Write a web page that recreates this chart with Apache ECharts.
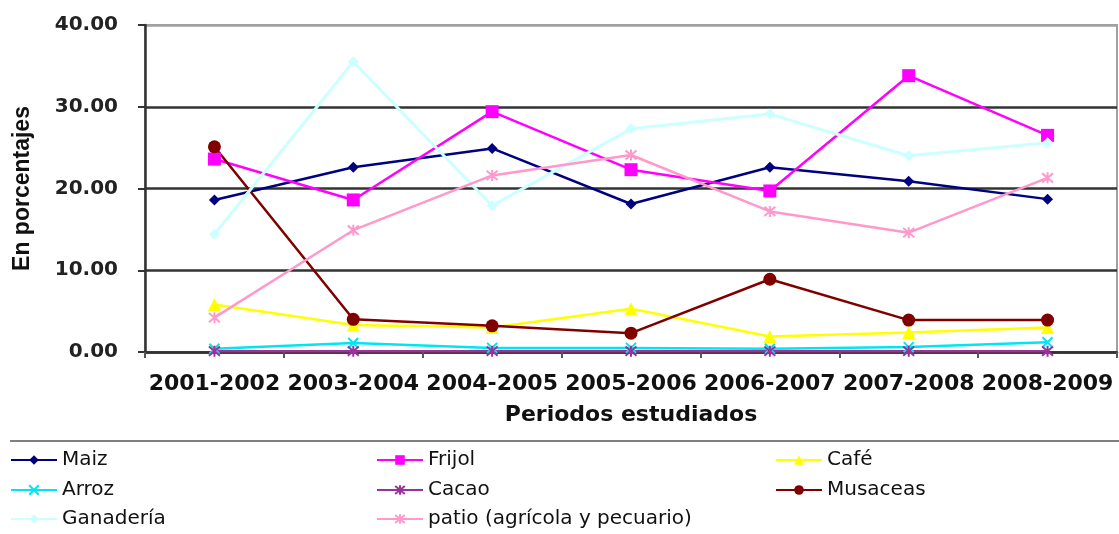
<!DOCTYPE html>
<html>
<head>
<meta charset="utf-8">
<script src="https://cdn.jsdelivr.net/npm/echarts@6/dist/echarts.min.js"></script>
<style>
  html, body { margin: 0; padding: 0; background: #fff; }
  #chart { width: 1119px; height: 534px; }
</style>
</head>
<body>
<div id="chart"></div>
<script>
// periods on the x axis
const periodos = ['2001-2002', '2003-2004', '2004-2005', '2005-2006', '2006-2007', '2007-2008', '2008-2009'];

// values (percent)
const maiz      = [18.6, 22.6, 24.9, 18.1, 22.6, 20.9, 18.7];
const frijol    = [23.6, 18.6, 29.4, 22.3, 19.7, 33.8, 26.5];
const cafe      = [5.8, 3.3, 3.0, 5.3, 1.9, 2.4, 3.0];
const arroz     = [0.4, 1.1, 0.5, 0.5, 0.4, 0.6, 1.2];
const cacao     = [0.1, 0.1, 0.1, 0.1, 0.1, 0.1, 0.1];
const musaceas  = [25.1, 4.0, 3.2, 2.3, 8.9, 3.9, 3.9];
const ganaderia = [14.4, 35.5, 17.9, 27.3, 29.1, 24.0, 25.6];
const patio     = [4.2, 14.9, 21.6, 24.1, 17.2, 14.6, 21.3];

const yTicks = [0, 10, 20, 30, 40];

const crossPath = 'path://M0,0L10,10M10,0L0,10';
const starPath = 'path://M0,0L10,10M10,0L0,10M5,-1L5,11';

function mkSeries(name, data, color, symbol, size, width) {
  return {
    name: name,
    type: 'line',
    data: data,
    symbol: symbol,
    symbolSize: size,
    lineStyle: { color: color, width: width || 2.5 },
    itemStyle: { color: color, borderColor: color, borderWidth: symbol.indexOf('path') === 0 ? 2 : 0 },
    emphasis: { disabled: true },
    animation: false
  };
}

const chart = echarts.init(document.getElementById('chart'));

// legend: one entry per box, laid out as 3 columns x 3 rows
const legendCols = [10, 376, 775];
const legendRows = [450, 480, 509];
const legendText = { fontFamily: 'DejaVu Sans', fontSize: 20, color: '#111' };
function mkLegend(col, row, name) {
  return {
    left: legendCols[col],
    top: legendRows[row],
    itemWidth: 46,
    itemHeight: 12,
    itemGap: 5,
    padding: 0,
    textStyle: legendText,
    data: [name]
  };
}

chart.setOption({
  backgroundColor: '#fff',
  grid: {
    left: 145, right: 2, top: 25, bottom: 182,
    show: true, borderColor: '#a0a0a0', borderWidth: 2, backgroundColor: 'transparent'
  },
  legend: [
    mkLegend(0, 0, 'Maiz'),
    mkLegend(1, 0, 'Frijol'),
    mkLegend(2, 0, 'Café'),
    mkLegend(0, 1, 'Arroz'),
    mkLegend(1, 1, 'Cacao'),
    mkLegend(2, 1, 'Musaceas'),
    mkLegend(0, 2, 'Ganadería'),
    mkLegend(1, 2, 'patio (agrícola y pecuario)')
  ],
  graphic: [{
    type: 'line',
    shape: { x1: 10, y1: 441, x2: 1119, y2: 441 },
    style: { stroke: '#555', lineWidth: 1.5 }
  }],
  xAxis: {
    type: 'category',
    data: periodos,
    boundaryGap: true,
    name: 'Periodos estudiados',
    nameLocation: 'middle',
    nameGap: 52,
    nameTextStyle: { fontFamily: 'DejaVu Sans', fontWeight: 'bold', fontSize: 22, color: '#111' },
    axisLine: { lineStyle: { color: '#333', width: 2.5 } },
    axisTick: { show: true, length: 6, lineStyle: { color: '#555', width: 2 } },
    axisLabel: { fontFamily: 'DejaVu Sans', fontWeight: 'bold', fontSize: 22, color: '#111', margin: 21, interval: 0 },
    splitLine: { show: false }
  },
  yAxis: {
    type: 'value',
    min: yTicks[0],
    max: yTicks[yTicks.length - 1],
    interval: 10,
    name: 'En porcentajes',
    nameLocation: 'middle',
    nameGap: 111,
    nameRotate: 90,
    nameTextStyle: { fontFamily: 'Liberation Sans', fontWeight: 'bold', fontSize: 23, color: '#111' },
    axisLine: { show: true, lineStyle: { color: '#333', width: 2.5 } },
    axisTick: { show: true, length: 7, lineStyle: { color: '#333', width: 2 } },
    axisLabel: {
      fontFamily: 'DejaVu Sans', fontWeight: 'bold', fontSize: 20, color: '#222', margin: 27,
      formatter: function (v) { return v.toFixed(2); }
    },
    splitLine: { show: true, lineStyle: { color: ['#333', '#333', '#333', '#333', '#a0a0a0'], width: 2.5 } }
  },
  series: [
    mkSeries('Maiz', maiz, '#000080', 'diamond', 11),
    mkSeries('Frijol', frijol, '#ff00ff', 'rect', 13),
    mkSeries('Café', cafe, '#ffff00', 'triangle', 13),
    mkSeries('Arroz', arroz, '#00e5f5', crossPath, 10),
    mkSeries('Cacao', cacao, '#993399', starPath, 11),
    mkSeries('Musaceas', musaceas, '#800000', 'circle', 13),
    mkSeries('Ganadería', ganaderia, '#ccffff', 'diamond', 11, 3),
    mkSeries('patio (agrícola y pecuario)', patio, '#ff99cc', starPath, 11)
  ]
});
</script>
</body>
</html>
